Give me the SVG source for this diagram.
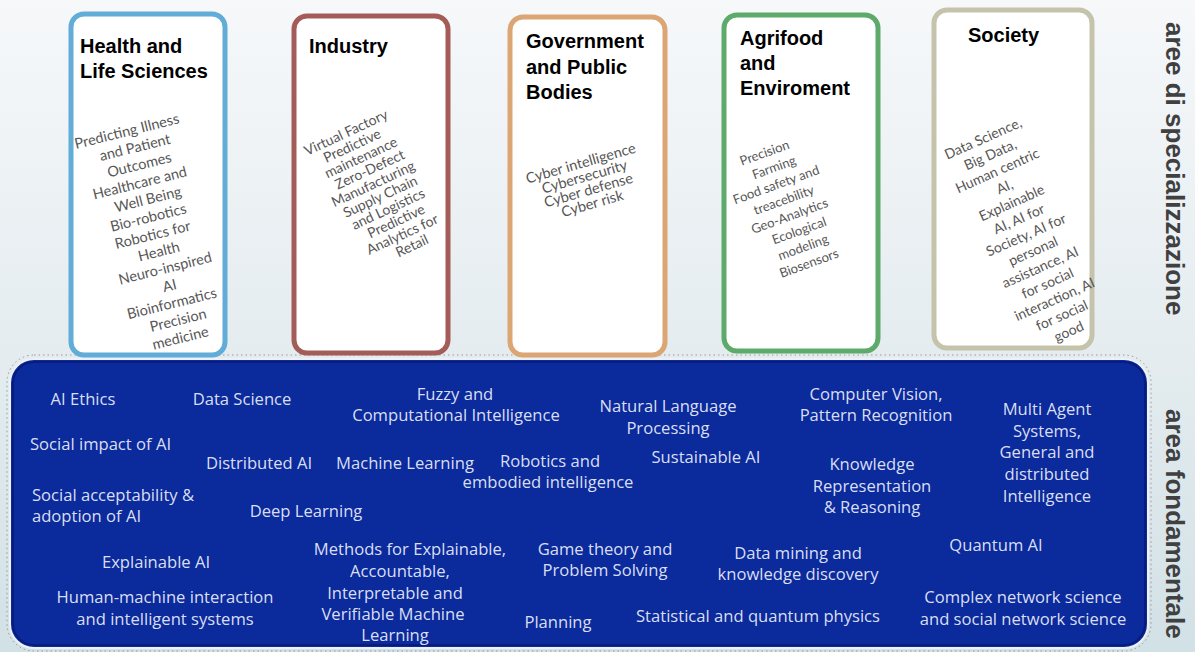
<svg xmlns="http://www.w3.org/2000/svg" width="1195" height="652" viewBox="0 0 1195 652">
  <defs>
    <linearGradient id="bg" x1="0" y1="0" x2="0" y2="1">
      <stop offset="0" stop-color="#f6f8fa"/>
      <stop offset="0.55" stop-color="#e4ecef"/>
      <stop offset="1" stop-color="#d2e1e6"/>
    </linearGradient>
    <style>
      .card { fill: #ffffff; stroke-width: 5; }
      .title { font-family: "Liberation Sans", Arial, sans-serif; font-weight: bold; font-size: 20px; fill: #000000; }
      .tag { font-family: Lato, "Open Sans", sans-serif; fill: #575757; text-anchor: middle; }
      .core { font-family: "Open Sans", Lato, sans-serif; font-size: 16.6px; fill: #d9dff3; text-anchor: middle; }
      .core-l { text-anchor: start; }
      .side { font-family: "Liberation Sans", Arial, sans-serif; font-weight: bold; font-size: 26px; fill: #404040; }
    </style>
  </defs>

  <!-- backdrop -->
  <rect width="1195" height="652" fill="url(#bg)"/>

  <!-- foundational area panel -->
  <g id="core-panel">
    <rect x="7" y="355" width="1144" height="296" rx="27" fill="none" stroke="#7a7a6a" stroke-width="1" stroke-dasharray="1.5 3" opacity="0.7"/>
    <rect x="10" y="359" width="1138" height="289" rx="24" fill="#0b2a9c" stroke="#eef1f7" stroke-width="2"/>
    <rect x="13" y="362" width="1132" height="283" rx="21" fill="none" stroke="#071c7c" stroke-width="2"/>

    <text class="core" x="83" y="405">AI Ethics</text>
    <text class="core" x="242" y="405">Data Science</text>
    <text class="core" x="455" y="400">Fuzzy and</text>
    <text class="core" x="456" y="421">Computational Intelligence</text>
    <text class="core" x="668" y="412">Natural Language</text>
    <text class="core" x="668" y="434">Processing</text>
    <text class="core" x="876" y="400">Computer Vision,</text>
    <text class="core" x="876" y="421">Pattern Recognition</text>
    <text class="core" x="1047" y="415">Multi Agent</text>
    <text class="core" x="1047" y="437">Systems,</text>
    <text class="core" x="1047" y="458">General and</text>
    <text class="core" x="1047" y="480">distributed</text>
    <text class="core" x="1047" y="502">Intelligence</text>

    <text class="core core-l" x="30" y="450">Social impact  of AI</text>
    <text class="core" x="259" y="469">Distributed AI</text>
    <text class="core" x="405" y="469">Machine Learning</text>
    <text class="core" x="550" y="467">Robotics and</text>
    <text class="core" x="548" y="488">embodied intelligence</text>
    <text class="core" x="706" y="463">Sustainable AI</text>
    <text class="core" x="872" y="470">Knowledge</text>
    <text class="core" x="872" y="492">Representation</text>
    <text class="core" x="872" y="513">&amp; Reasoning</text>

    <text class="core core-l" x="32" y="501">Social acceptability &amp;</text>
    <text class="core core-l" x="32" y="522">adoption of AI</text>
    <text class="core" x="306" y="517">Deep Learning</text>

    <text class="core" x="156" y="568">Explainable AI</text>
    <text class="core" x="410" y="555">Methods for Explainable,</text>
    <text class="core" x="400" y="577">Accountable,</text>
    <text class="core" x="395" y="599">Interpretable and</text>
    <text class="core" x="393" y="620">Verifiable Machine</text>
    <text class="core" x="395" y="641">Learning</text>
    <text class="core" x="605" y="555">Game theory and</text>
    <text class="core" x="605" y="576">Problem Solving</text>
    <text class="core" x="798" y="559">Data mining and</text>
    <text class="core" x="798" y="580">knowledge discovery</text>
    <text class="core" x="996" y="551">Quantum AI</text>

    <text class="core" x="165" y="603">Human-machine interaction</text>
    <text class="core" x="165" y="625">and intelligent systems</text>
    <text class="core" x="558" y="628">Planning</text>
    <text class="core" x="758" y="622">Statistical and quantum physics</text>
    <text class="core" x="1023" y="603">Complex network science</text>
    <text class="core" x="1023" y="625">and social network science</text>
  </g>

  <!-- specialisation cards -->
  <g id="card-health">
    <rect class="card" x="71" y="14" width="154" height="341" rx="13" stroke="#62acd8"/>
    <text class="title"><tspan x="80" y="53">Health and</tspan><tspan x="80" y="78">Life Sciences</tspan></text>
    <g transform="translate(128,136) rotate(-14)" font-size="14.5">
      <text class="tag" x="0" y="0">Predicting Illness</text>
      <text class="tag" x="4" y="17.8">and Patient</text>
      <text class="tag" x="4" y="35.6">Outcomes</text>
      <text class="tag" x="0" y="53.4">Healthcare and</text>
      <text class="tag" x="4" y="71.2">Well Being</text>
      <text class="tag" x="0" y="89">Bio-robotics</text>
      <text class="tag" x="0" y="106.8">Robotics for</text>
      <text class="tag" x="2" y="124.6">Health</text>
      <text class="tag" x="4" y="142.4">Neuro-inspired</text>
      <text class="tag" x="4" y="160.2">AI</text>
      <text class="tag" x="2" y="178">Bioinformatics</text>
      <text class="tag" x="4" y="195.8">Precision</text>
      <text class="tag" x="2" y="213.6">medicine</text>
    </g>
  </g>

  <g id="card-industry">
    <rect class="card" x="294" y="16" width="154" height="337" rx="13" stroke="#a45c58"/>
    <text class="title" x="309" y="53">Industry</text>
    <g transform="translate(348,137) rotate(-25)" font-size="14">
      <text class="tag" x="0" y="0">Virtual Factory</text>
      <text class="tag" x="0" y="14.5">Predictive</text>
      <text class="tag" x="3" y="29">maintenance</text>
      <text class="tag" x="6" y="43.5">Zero-Defect</text>
      <text class="tag" x="3" y="58">Manufacturing</text>
      <text class="tag" x="4" y="72.5">Supply Chain</text>
      <text class="tag" x="6" y="87">and Logistics</text>
      <text class="tag" x="8" y="101.5">Predictive</text>
      <text class="tag" x="8" y="116">Analytics for</text>
      <text class="tag" x="12" y="130.5">Retail</text>
    </g>
  </g>

  <g id="card-government">
    <rect class="card" x="510" y="17" width="155" height="338" rx="13" stroke="#dca574"/>
    <text class="title"><tspan x="526" y="48">Government</tspan><tspan x="526" y="74">and Public</tspan><tspan x="526" y="99">Bodies</tspan></text>
    <g transform="translate(582,168) rotate(-16)" font-size="14.5">
      <text class="tag" x="0" y="0">Cyber intelligence</text>
      <text class="tag" x="0" y="14">Cybersecurity</text>
      <text class="tag" x="0" y="28">Cyber defense</text>
      <text class="tag" x="0" y="42">Cyber risk</text>
    </g>
  </g>

  <g id="card-agrifood">
    <rect class="card" x="724" y="15" width="154" height="336" rx="13" stroke="#5daa6b"/>
    <text class="title"><tspan x="740" y="45">Agrifood</tspan><tspan x="740" y="70">and</tspan><tspan x="740" y="95">Enviroment</tspan></text>
    <g transform="translate(766,157) rotate(-20)" font-size="13">
      <text class="tag" x="0" y="0">Precision</text>
      <text class="tag" x="4" y="17">Farming</text>
      <text class="tag" x="0" y="34">Food safety and</text>
      <text class="tag" x="2" y="51">treacebility</text>
      <text class="tag" x="2" y="68">Geo-Analytics</text>
      <text class="tag" x="6" y="85">Ecological</text>
      <text class="tag" x="4" y="102">modeling</text>
      <text class="tag" x="4" y="119">Biosensors</text>
    </g>
  </g>

  <g id="card-society">
    <rect class="card" x="934" y="10" width="158" height="338" rx="13" stroke="#c5c3ab"/>
    <text class="title" x="968" y="42">Society</text>
    <g transform="translate(985,143) rotate(-24)" font-size="14">
      <text class="tag" x="0" y="0">Data Science,</text>
      <text class="tag" x="0" y="17.6">Big Data,</text>
      <text class="tag" x="0" y="35.2">Human centric</text>
      <text class="tag" x="0" y="52.8">AI,</text>
      <text class="tag" x="0" y="70.4">Explainable</text>
      <text class="tag" x="0" y="88">AI, AI for</text>
      <text class="tag" x="0" y="105.6">Society, AI for</text>
      <text class="tag" x="0" y="123.2">personal</text>
      <text class="tag" x="0" y="140.8">assistance, AI</text>
      <text class="tag" x="0" y="158.4">for social</text>
      <text class="tag" x="0" y="176">interaction, AI</text>
      <text class="tag" x="0" y="193.6">for social</text>
      <text class="tag" x="0" y="211.2">good</text>
    </g>
  </g>

  <!-- side captions -->
  <g id="side-labels">
    <text class="side" transform="translate(1166,22) rotate(90)">aree di specializzazione</text>
    <text class="side" transform="translate(1166,409) rotate(90)">area fondamentale</text>
  </g>
</svg>
